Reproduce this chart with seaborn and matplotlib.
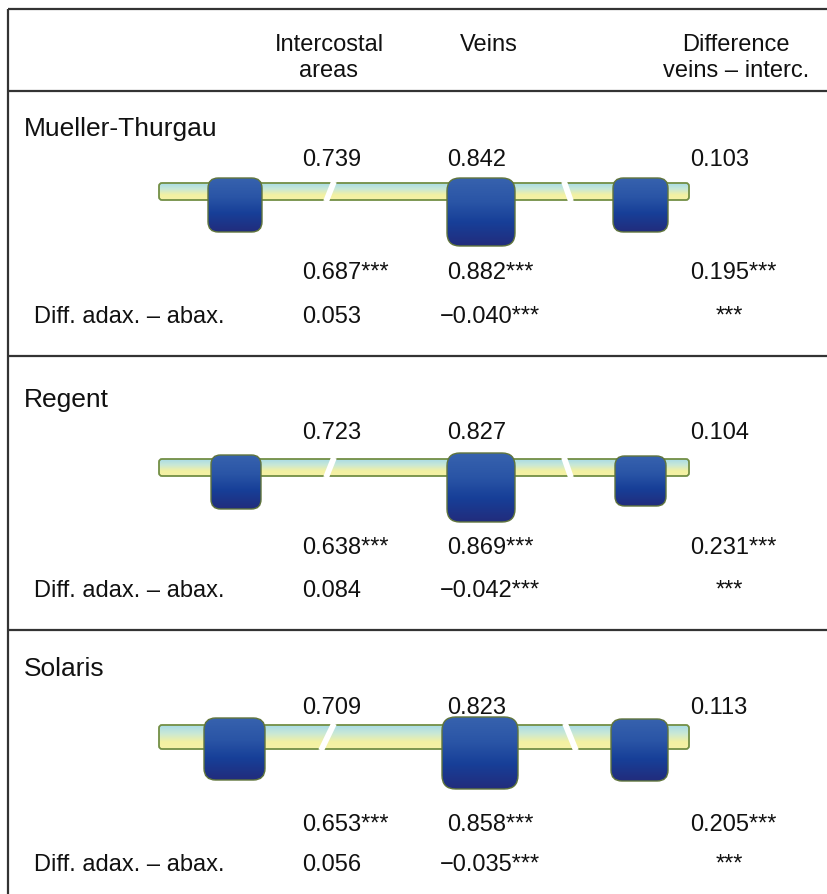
import numpy as np
import matplotlib
matplotlib.use("Agg")
import matplotlib.pyplot as plt
from matplotlib.patches import FancyBboxPatch
from matplotlib.colors import to_rgb
import seaborn as sns

# ---------------- data ----------------
cultivars = ["Mueller-Thurgau", "Regent", "Solaris"]
header_labels = ["Intercostal\nareas", "Veins", "Difference\nveins \u2013 interc."]
diff_row_label = "Diff. adax. \u2013 abax."

# adaxial (upper) values
adax_interc = [0.739, 0.723, 0.709]
adax_veins = [0.842, 0.827, 0.823]
adax_diff = [0.103, 0.104, 0.113]
# abaxial (lower) values with significance
abax_interc = [0.687, 0.638, 0.653]
abax_veins = [0.882, 0.869, 0.858]
abax_diff = [0.195, 0.231, 0.205]
abax_sig = ["***", "***", "***"]
# differences adaxial - abaxial
dif_interc = [0.053, 0.084, 0.056]
dif_interc_sig = ["", "", ""]
dif_veins = [-0.040, -0.042, -0.035]
dif_veins_sig = ["***", "***", "***"]
dif_diff_sig = ["***", "***", "***"]

# ---------------- layout (pixel coordinates) ----------------
W, H = 827, 895
sns.set_theme(style="white")
plt.rcParams["font.family"] = ["Liberation Sans", "DejaVu Sans"]

fig = plt.figure(figsize=(W / 100, H / 100), dpi=100)
ax = fig.add_axes([0, 0, 1, 1])
ax.set_xlim(0, W)
ax.set_ylim(H, 0)
ax.axis("off")

def fmt(v, sig=""):
    s = f"{abs(v):.3f}"
    if v < 0:
        s = "\u2212" + s
    return s + sig

def gradient_box(x0, y0, x1, y1, stops, colors, radius, edge, lw, z):
    patch = FancyBboxPatch((x0, y0), x1 - x0, y1 - y0,
                           boxstyle=f"round,pad=0,rounding_size={radius}",
                           fc="none", ec=edge, lw=lw, zorder=z + 0.5)
    ax.add_patch(patch)
    n = 200
    t = np.linspace(0, 1, n)
    cols = np.array([to_rgb(c) for c in colors])
    img = np.stack([np.interp(t, stops, cols[:, k]) for k in range(3)], axis=-1)
    img = img[:, None, :]
    im = ax.imshow(img, extent=(x0, x1, y1, y0), aspect="auto",
                   interpolation="bilinear", zorder=z)
    im.set_clip_path(patch)

strip_colors = ["#a8dce6", "#c9e8d6", "#f3f1a2", "#f6f2a6"]
strip_stops = [0.0, 0.35, 0.7, 1.0]
sq_colors = ["#3762ae", "#2a55a6", "#173f98", "#222c7c"]
sq_stops = [0.0, 0.35, 0.65, 1.0]

FS = 17
TFS = 19
line_c = "#333333"

# frame lines
for yl in [10, 92, 357, 631]:
    ax.plot([8, W], [yl, yl], color=line_c, lw=1.6, solid_capstyle="butt", zorder=5)
ax.plot([8, 8], [10, H], color=line_c, lw=1.6, solid_capstyle="butt", zorder=5)

# header
col_x_center = [329, 489, 736]
for cx, lab in zip(col_x_center, header_labels):
    lines = lab.split("\n")
    for i, ln in enumerate(lines):
        ax.text(cx, 51 + 26 * i, ln, ha="center", va="baseline", fontsize=FS, color="#111111")

panels = [
    dict(title_y=136, val_y=166, strip=(184, 201),
         squares=[(208, 179, 262, 233), (447, 179, 515, 247), (613, 179, 668, 233)],
         gaps=[(334, 326), (564, 571)], low_y=279, dif_y=323),
    dict(title_y=407, val_y=439, strip=(460, 477),
         squares=[(211, 456, 261, 510), (447, 454, 515, 523), (615, 457, 666, 507)],
         gaps=[(334, 326), (564, 571)], low_y=554, dif_y=597),
    dict(title_y=676, val_y=714, strip=(726, 750),
         squares=[(204, 719, 265, 781), (442, 718, 518, 790), (611, 720, 668, 782)],
         gaps=[(334, 321), (565, 576)], low_y=831, dif_y=871),
]

col_left = [302, 447, 690]

for i, p in enumerate(panels):
    ax.text(24, p["title_y"], cultivars[i], ha="left", va="baseline", fontsize=TFS, color="#111111")
    # adaxial values
    for x, v in zip(col_left, [adax_interc[i], adax_veins[i], adax_diff[i]]):
        ax.text(x, p["val_y"], fmt(v), ha="left", va="baseline", fontsize=FS, color="#111111")
    # strip (leaf)
    s0, s1 = p["strip"]
    gradient_box(159, s0, 689, s1, strip_stops, strip_colors, 3, "#738f45", 1.3, 2)
    # gaps
    for gt, gb in p["gaps"]:
        ax.plot([gt, gb], [s0 - 1.5, s1 + 1.5], color="white", lw=4.2, solid_capstyle="butt", zorder=3)
    # squares
    for (x0, y0, x1, y1) in p["squares"]:
        r = 0.19 * min(x1 - x0, y1 - y0)
        gradient_box(x0, y0, x1, y1, sq_stops, sq_colors, r, "#60753c", 1.0, 4)
    # abaxial values
    for x, v in zip(col_left, [abax_interc[i], abax_veins[i], abax_diff[i]]):
        ax.text(x, p["low_y"], fmt(v, abax_sig[i]), ha="left", va="baseline", fontsize=FS, color="#111111")
    # difference row
    ax.text(34, p["dif_y"], diff_row_label, ha="left", va="baseline", fontsize=FS, color="#111111")
    ax.text(302, p["dif_y"], fmt(dif_interc[i], dif_interc_sig[i]), ha="left", va="baseline", fontsize=FS, color="#111111")
    ax.text(440, p["dif_y"], fmt(dif_veins[i], dif_veins_sig[i]), ha="left", va="baseline", fontsize=FS, color="#111111")
    ax.text(716, p["dif_y"], dif_diff_sig[i], ha="left", va="baseline", fontsize=FS, color="#111111")

ax.set_xlim(0, W)
ax.set_ylim(H, 0)
fig.savefig("out.png", dpi=100, facecolor="white")
